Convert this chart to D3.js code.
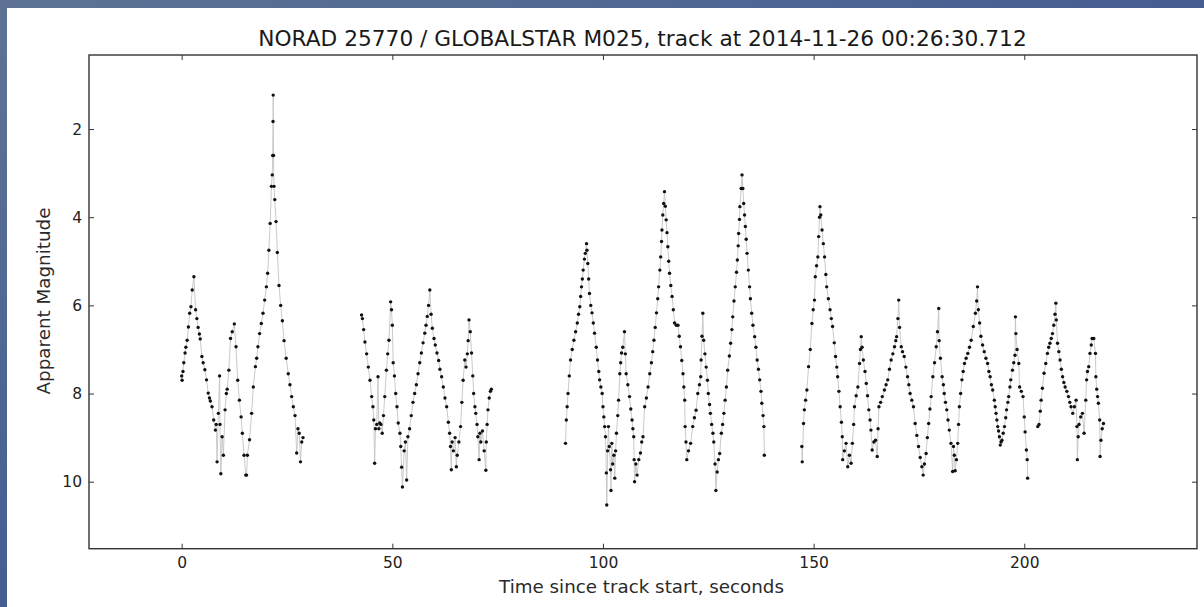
<!DOCTYPE html>
<html>
<head>
<meta charset="utf-8">
<script src="https://cdn.jsdelivr.net/npm/d3@7"></script>
<style>
html,body{margin:0;padding:0;background:#fff;}
svg{display:block;}
</style>
</head>
<body>
<svg id="chart" width="1204" height="607"></svg>
<script>
// ---- data: [time since track start (s), apparent magnitude] ----
const seg1 = [[0,7.6],[0.1,7.7],[0.3,7.5],[0.5,7.3],[0.8,7.08],[1.0,6.95],[1.3,6.79],[1.6,6.49],[1.9,6.18],[2.2,6.03],[2.5,5.65],[2.9,5.35],[3.3,6.1],[3.6,6.3],[3.9,6.5],[4.2,6.65],[4.4,6.76],[4.8,7.16],[5.1,7.3],[5.5,7.46],[5.9,7.69],[6.3,7.99],[6.6,8.1],[6.8,8.17],[7.2,8.3],[7.6,8.6],[8.0,8.83],[8.2,8.7],[8.4,9.55],[8.7,8.45],[9.0,7.6],[9.1,8.7],[9.3,9.82],[9.6,8.98],[9.9,9.4],[10.3,8.37],[10.6,8.0],[10.8,7.9],[11.2,7.47],[11.6,6.75],[12.0,6.6],[12.5,6.42],[12.9,6.94],[13.3,7.7],[13.7,8.15],[14.1,8.53],[14.4,8.9],[14.8,9.4],[15.2,9.85],[15.4,9.85],[15.6,9.4],[16.1,9.05],[16.6,8.45],[17.0,7.85],[17.5,7.39],[17.8,7.2],[18.1,6.94],[18.5,6.64],[18.9,6.41],[19.3,6.18],[19.7,5.88],[20.1,5.58],[20.4,5.27],[20.7,4.75],[21.0,4.14],[21.3,3.3],[21.5,3.04],[21.6,2.6],[21.68,1.83],[21.72,1.23],[21.8,2.6],[21.9,3.3],[22.1,3.6],[22.4,4.1],[22.7,4.8],[23.1,5.55],[23.5,6.0],[23.9,6.35],[24.3,6.8],[24.8,7.2],[25.3,7.55],[25.7,7.8],[26.1,8.07],[26.5,8.3],[26.9,8.5],[27.3,9.35],[27.6,8.8],[27.9,8.9],[28.2,9.55],[28.5,9.1],[28.8,9.0]];
const seg2 = [[42.7,6.22],[42.9,6.3],[43.2,6.55],[43.5,6.83],[43.9,7.1],[44.3,7.4],[44.7,7.7],[45.1,8.07],[45.4,8.3],[45.6,8.6],[45.8,9.58],[46.0,8.8],[46.3,8.7],[46.6,7.62],[46.8,8.8],[47.0,8.67],[47.3,8.7],[47.6,8.9],[47.9,8.5],[48.2,8.07],[48.6,7.47],[48.9,7.1],[49.2,6.79],[49.6,5.92],[49.8,6.1],[50.0,6.45],[50.2,7.3],[50.5,7.6],[50.8,8.0],[51.1,8.3],[51.4,8.67],[51.8,8.9],[52.0,9.2],[52.2,9.67],[52.4,10.12],[52.8,9.3],[53.1,9.1],[53.4,9.96],[53.7,8.98],[54.1,8.8],[54.5,8.5],[54.9,8.2],[55.3,8.0],[55.7,7.8],[56.1,7.55],[56.5,7.3],[56.9,7.08],[57.3,6.85],[57.7,6.63],[58.0,6.45],[58.3,6.25],[58.6,6.0],[58.9,5.65],[59.2,6.2],[59.5,6.52],[59.9,6.75],[60.2,6.9],[60.6,7.08],[61.0,7.25],[61.3,7.45],[61.7,7.62],[62.1,7.85],[62.5,8.1],[62.9,8.3],[63.3,8.65],[63.6,8.9],[63.8,9.2],[64.0,9.73],[64.2,9.1],[64.5,9.3],[64.9,9.0],[65.2,9.66],[65.4,9.4],[65.8,9.1],[66.2,8.75],[66.5,8.2],[66.8,7.7],[67.2,7.24],[67.5,7.4],[67.8,7.1],[68.0,6.8],[68.2,6.33],[68.5,6.6],[68.8,7.08],[69.1,7.6],[69.3,8.0],[69.6,8.3],[69.8,8.45],[70.1,8.7],[70.3,8.98],[70.6,9.5],[70.8,8.9],[71.0,9.1],[71.4,8.85],[71.8,9.3],[72.2,9.74],[72.3,9.1],[72.5,8.7],[72.7,8.37],[73.0,8.1],[73.3,7.95],[73.5,7.9]];
const seg3 = [[91.1,9.13],[91.3,8.6],[91.5,8.3],[91.7,8.0],[92.0,7.6],[92.3,7.24],[92.7,7.0],[93.1,6.79],[93.5,6.6],[93.9,6.4],[94.2,6.2],[94.5,6.03],[94.7,5.8],[94.9,5.58],[95.1,5.4],[95.3,5.2],[95.6,4.95],[95.8,4.82],[96.1,4.6],[96.2,4.75],[96.4,5.05],[96.6,5.4],[96.8,5.73],[97.1,6.0],[97.4,6.17],[97.7,6.4],[98.0,6.63],[98.4,6.95],[98.7,7.24],[99.0,7.5],[99.2,7.69],[99.5,7.85],[99.8,8.0],[100.0,8.3],[100.2,8.53],[100.4,8.75],[100.6,8.98],[100.8,9.8],[100.9,10.53],[101.1,9.3],[101.3,8.75],[101.5,9.2],[101.8,9.73],[101.9,10.2],[102.1,9.13],[102.3,9.6],[102.6,9.4],[102.8,9.92],[103.0,9.3],[103.2,8.9],[103.5,8.5],[103.7,8.15],[104.0,7.55],[104.2,7.3],[104.4,7.08],[104.7,6.95],[105.1,6.6],[105.3,7.1],[105.5,7.55],[105.9,7.8],[106.3,8.07],[106.6,8.35],[106.9,8.6],[107.1,8.8],[107.3,8.98],[107.4,9.5],[107.5,10.0],[107.8,9.6],[108.1,9.85],[108.5,9.5],[108.9,9.35],[109.2,9.1],[109.5,8.98],[109.9,8.3],[110.3,8.1],[110.7,7.85],[111.1,7.55],[111.5,7.3],[111.8,7.05],[112.1,6.79],[112.4,6.5],[112.7,6.17],[113.0,5.85],[113.2,5.58],[113.5,5.2],[113.7,4.9],[113.9,4.55],[114.0,4.29],[114.2,3.95],[114.4,3.69],[114.6,3.42],[114.8,3.75],[115.0,4.06],[115.2,4.35],[115.4,4.67],[115.6,5.0],[115.8,5.27],[116.1,5.55],[116.4,5.8],[116.7,6.1],[117.0,6.4],[117.4,6.45],[117.8,6.45],[118.1,6.7],[118.4,6.94],[118.7,7.25],[119.0,7.55],[119.2,7.85],[119.4,8.15],[119.5,8.75],[119.7,9.1],[119.9,9.5],[120.3,9.3],[120.8,9.13],[121.3,8.75],[121.7,8.55],[122.1,8.38],[122.5,8.0],[122.9,7.8],[123.2,7.62],[123.3,7.24],[123.5,6.7],[123.7,6.18],[123.9,6.79],[124.2,7.1],[124.5,7.4],[124.8,7.7],[125.0,8.0],[125.3,8.25],[125.5,8.45],[125.8,8.7],[126.1,8.9],[126.3,9.1],[126.6,9.6],[126.8,10.2],[127.1,9.78],[127.4,9.5],[127.7,9.36],[128.1,8.9],[128.4,8.7],[128.7,8.45],[129.0,8.15],[129.3,7.85],[129.6,7.47],[130.0,7.15],[130.3,6.86],[130.6,6.55],[130.8,6.26],[131.1,5.9],[131.4,5.58],[131.7,5.25],[131.9,4.97],[132.1,4.65],[132.2,4.37],[132.4,4.05],[132.5,3.76],[132.8,3.35],[133.0,3.04],[133.2,3.35],[133.4,3.69],[133.6,3.95],[133.8,4.21],[134.0,4.5],[134.2,4.82],[134.5,5.2],[134.8,5.58],[135.0,5.85],[135.3,6.18],[135.6,6.45],[136.0,6.71],[136.3,6.95],[136.6,7.24],[136.9,7.45],[137.2,7.69],[137.5,7.95],[137.7,8.22],[138.0,8.5],[138.2,8.75],[138.3,9.4]];
const seg4 = [[147.2,9.2],[147.3,9.55],[147.6,8.68],[147.8,8.37],[148.1,8.15],[148.4,7.92],[148.8,7.39],[149.2,7.0],[149.6,6.41],[149.9,6.1],[150.2,5.88],[150.4,5.35],[150.7,5.1],[151.0,4.9],[151.2,4.44],[151.4,4.0],[151.5,3.76],[151.7,3.95],[152.0,4.29],[152.3,4.6],[152.6,4.9],[152.9,5.3],[153.1,5.58],[153.5,5.85],[153.9,6.1],[154.2,6.3],[154.5,6.48],[154.9,6.85],[155.2,7.16],[155.5,7.4],[155.7,7.62],[156.0,7.95],[156.3,8.3],[156.6,8.65],[156.8,8.98],[156.9,9.5],[157.3,9.3],[157.7,9.13],[158.1,9.66],[158.5,9.4],[158.9,9.58],[159.2,9.13],[159.5,8.7],[159.7,8.3],[160.1,8.05],[160.5,7.85],[160.9,7.32],[161.1,7.0],[161.3,6.71],[161.5,6.95],[161.8,7.24],[162.2,7.5],[162.5,7.77],[162.8,8.05],[163.1,8.37],[163.4,8.6],[163.6,8.83],[163.9,9.28],[164.3,9.1],[164.7,9.06],[165.1,9.43],[165.3,8.8],[165.5,8.3],[165.9,8.2],[166.3,8.07],[166.8,7.92],[167.2,7.8],[167.6,7.69],[168.0,7.45],[168.4,7.24],[168.8,7.1],[169.2,6.94],[169.5,6.8],[169.7,6.71],[170.0,6.3],[170.2,5.88],[170.4,6.5],[170.8,6.94],[171.1,7.05],[171.5,7.16],[171.9,7.4],[172.3,7.62],[172.6,7.8],[172.9,8.0],[173.3,8.15],[173.7,8.3],[174.1,8.68],[174.5,8.95],[174.9,9.2],[175.3,9.45],[175.7,9.66],[176.0,9.85],[176.3,9.6],[176.7,9.36],[177.0,9.0],[177.3,8.68],[177.6,8.35],[177.9,8.07],[178.3,7.62],[178.7,7.3],[179.1,6.94],[179.4,6.6],[179.7,6.07],[179.8,6.8],[180.1,7.2],[180.5,7.62],[180.8,7.8],[181.0,8.0],[181.3,8.2],[181.6,8.37],[181.9,8.6],[182.2,8.83],[182.6,9.13],[183.0,9.77],[183.2,9.2],[183.4,9.4],[183.6,9.75],[183.9,9.5],[184.2,9.13],[184.4,8.7],[184.6,8.3],[184.9,8.0],[185.2,7.69],[185.5,7.5],[185.8,7.32],[186.2,7.2],[186.6,7.09],[187.0,6.95],[187.4,6.79],[187.9,6.48],[188.4,6.18],[188.7,5.9],[188.9,5.58],[189.1,6.1],[189.4,6.4],[189.7,6.7],[190.1,6.9],[190.5,7.05],[190.9,7.2],[191.3,7.32],[191.6,7.5],[191.9,7.62],[192.2,7.8],[192.5,7.92],[192.9,8.15],[193.1,8.3],[193.3,8.45],[193.5,8.6],[193.7,8.75],[193.9,8.85],[194.1,8.98],[194.3,9.17],[194.5,9.1],[194.7,9.06],[195.0,8.9],[195.3,8.75],[195.6,8.55],[195.8,8.37],[196.1,8.2],[196.3,8.07],[196.6,7.85],[196.8,7.69],[197.2,7.47],[197.5,7.3],[197.8,7.13],[197.9,6.26],[198.0,6.64],[198.3,7.0],[198.7,7.32],[198.9,7.85],[199.3,7.95],[199.7,8.07],[200.0,8.53],[200.2,8.87],[200.5,9.28],[200.7,9.5],[200.8,9.92]];
const seg5 = [[203.2,8.75],[203.5,8.7],[203.8,8.4],[204.0,8.15],[204.3,7.88],[204.7,7.54],[205.1,7.32],[205.5,7.09],[205.8,6.95],[206.1,6.86],[206.4,6.75],[206.7,6.64],[207.0,6.45],[207.3,6.2],[207.5,5.95],[207.6,6.33],[207.9,6.86],[208.2,7.05],[208.5,7.24],[208.8,7.45],[209.1,7.62],[209.4,7.75],[209.7,7.85],[210.1,7.95],[210.5,8.07],[210.8,8.2],[211.1,8.3],[211.5,8.45],[211.9,8.3],[212.3,8.15],[212.5,8.75],[212.6,9.5],[212.8,8.98],[213.0,8.7],[213.4,8.53],[213.8,8.45],[214.2,8.9],[214.6,8.15],[214.8,7.69],[215.0,7.5],[215.3,7.39],[215.6,7.09],[215.9,6.9],[216.1,6.75],[216.5,6.75],[216.9,7.09],[217.0,7.62],[217.2,7.9],[217.4,8.07],[217.6,8.22],[217.9,8.6],[218.0,9.43],[218.2,9.06],[218.5,8.8],[218.8,8.68]];
const segments = [seg1, seg2, seg3, seg4, seg5];

const xTicks = [0, 50, 100, 150, 200];
const yTicks = [2, 4, 6, 8, 10];
const titleText = "NORAD 25770 / GLOBALSTAR M025, track at 2014-11-26 00:26:30.712";
const xLabelText = "Time since track start, seconds";
const yLabelText = "Apparent Magnitude";

// ---- drawing ----
const svg = d3.select("#chart");
const FONT = "DejaVu Sans, Liberation Sans, sans-serif";

const defs = svg.append("defs");
const grad = defs.append("linearGradient").attr("id", "bg")
  .attr("x1", "0%").attr("y1", "0%").attr("x2", "100%").attr("y2", "100%");
grad.append("stop").attr("offset", "0%").attr("stop-color", "#5e7394");
grad.append("stop").attr("offset", "60%").attr("stop-color", "#3f5a92");
grad.append("stop").attr("offset", "100%").attr("stop-color", "#24458a");
svg.append("rect").attr("width", 1204).attr("height", 607).attr("fill", "url(#bg)");
svg.append("rect").attr("x", 7).attr("y", 8).attr("width", 1197).attr("height", 599).attr("fill", "#ffffff");

const L = 89, R = 1197, T = 55, B = 548.7;
const x = d3.scaleLinear().domain([-22, 241]).range([L, R]);
const y = d3.scaleLinear().domain([0.32, 11.52]).range([T, B]);

// connecting line
const line = d3.line().x(d => x(d[0])).y(d => y(d[1]));
const plot = svg.append("g");
segments.forEach(seg => {
  plot.append("path").attr("d", line(seg))
    .attr("fill", "none").attr("stroke", "#c4c4c4").attr("stroke-width", 0.9);
});
segments.forEach(seg => {
  plot.selectAll(null).data(seg).enter().append("circle")
    .attr("cx", d => x(d[0])).attr("cy", d => y(d[1])).attr("r", 1.7)
    .attr("fill", "#111");
});

// axes with inside ticks
function styleAxis(g) {
  g.select(".domain").remove();
  g.selectAll(".tick line").attr("stroke", "#333").attr("stroke-width", 1);
  g.selectAll(".tick text").attr("fill", "#222").style("font-family", FONT).style("font-size", "15.5px");
}
svg.append("g").attr("transform", `translate(0,${B})`)
  .call(d3.axisBottom(x).tickValues(xTicks).tickSizeInner(-5).tickSizeOuter(0).tickPadding(8).tickFormat(d3.format("d")))
  .call(styleAxis);
svg.append("g").attr("transform", `translate(0,${T})`)
  .call(d3.axisTop(x).tickValues(xTicks).tickSizeInner(-5).tickSizeOuter(0).tickFormat(""))
  .call(styleAxis);
svg.append("g").attr("transform", `translate(${L},0)`)
  .call(d3.axisLeft(y).tickValues(yTicks).tickSizeInner(-5).tickSizeOuter(0).tickPadding(7).tickFormat(d3.format("d")))
  .call(styleAxis);
svg.append("g").attr("transform", `translate(${R},0)`)
  .call(d3.axisRight(y).tickValues(yTicks).tickSizeInner(-5).tickSizeOuter(0).tickFormat(""))
  .call(styleAxis);

// frame
svg.append("rect").attr("x", L).attr("y", T).attr("width", R - L).attr("height", B - T)
  .attr("fill", "none").attr("stroke", "#333").attr("stroke-width", 1.4);

// texts fitted to measured widths
function fitText(sel, targetW, baseSize) {
  sel.style("font-size", baseSize + "px");
  const w = sel.node().getComputedTextLength();
  if (w > 0) sel.style("font-size", (baseSize * targetW / w).toFixed(2) + "px");
}
const title = svg.append("text").attr("x", 642.5).attr("y", 46).attr("text-anchor", "middle")
  .style("font-family", FONT).attr("fill", "#1a1a1a").text(titleText);
fitText(title, 769, 17);

const xl = svg.append("text").attr("x", 641.5).attr("y", 593).attr("text-anchor", "middle")
  .style("font-family", FONT).attr("fill", "#2a2a2a").text(xLabelText);
fitText(xl, 285, 15);

const yl = svg.append("text").attr("transform", "translate(50,301) rotate(-90)").attr("text-anchor", "middle")
  .style("font-family", FONT).attr("fill", "#2a2a2a").text(yLabelText);
fitText(yl, 187, 15);
</script>
</body>
</html>
